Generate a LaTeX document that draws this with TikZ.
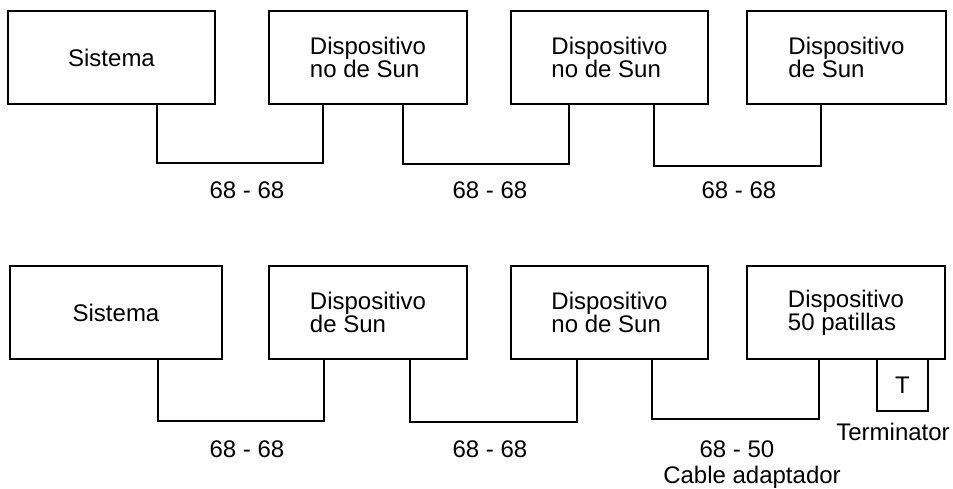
\documentclass[tikz,border=0pt]{standalone}
\usepackage{fontspec}
\setmainfont{Liberation Sans}
\begin{document}
\begin{tikzpicture}[x=1pt,y=-1pt,
  dev/.style={draw,line width=1.1pt,minimum height=93pt,inner sep=0pt,align=left,font=\fontsize{24}{23}\selectfont},
  lbl/.style={inner sep=0pt,font=\fontsize{24}{28}\selectfont},
  cable/.style={line width=1.1pt}]
\useasboundingbox (0,0) rectangle (953,488);
% top row
\node[dev,minimum width=207pt] (a1) at (111.5,57.5) {Sistema};
\node[dev,minimum width=198pt] (a2) at (368,57.5) {Dispositivo\\no de Sun};
\node[dev,minimum width=197pt] (a3) at (609.5,57.5) {Dispositivo\\no de Sun};
\node[dev,minimum width=199pt] (a4) at (846.5,57.5) {Dispositivo\\de Sun};
\coordinate (p1) at (157,163); \coordinate (q1) at (323,163);
\coordinate (p2) at (403,164); \coordinate (q2) at (569,164);
\coordinate (p3) at (654,166); \coordinate (q3) at (821,166);
\draw[cable] (a1.south -| p1) -- (p1) -- (q1) -- (a2.south -| q1);
\draw[cable] (a2.south -| p2) -- (p2) -- (q2) -- (a3.south -| q2);
\draw[cable] (a3.south -| p3) -- (p3) -- (q3) -- (a4.south -| q3);
\node[lbl] (la1) at (247,190) {68 - 68};
\node[lbl] (la2) at (490,190) {68 - 68};
\node[lbl] (la3) at (739,190) {68 - 68};
% bottom row
\node[dev,minimum width=212pt] (b1) at (116,312.5) {Sistema};
\node[dev,minimum width=198pt] (b2) at (368,312.5) {Dispositivo\\de Sun};
\node[dev,minimum width=197pt] (b3) at (609.5,312.5) {Dispositivo\\no de Sun};
\node[dev,minimum width=198pt] (b4) at (846,312.5) {Dispositivo\\50 patillas};
\node[draw,line width=1.1pt,minimum width=51pt,minimum height=52pt,inner sep=0pt,font=\fontsize{24}{28}\selectfont] (t) at (902.5,385) {T};
\coordinate (r1) at (158,421); \coordinate (s1) at (324,421);
\coordinate (r2) at (410,422); \coordinate (s2) at (577,422);
\coordinate (r3) at (652,419); \coordinate (s3) at (819,419);
\draw[cable] (b1.south -| r1) -- (r1) -- (s1) -- (b2.south -| s1);
\draw[cable] (b2.south -| r2) -- (r2) -- (s2) -- (b3.south -| s2);
\draw[cable] (b3.south -| r3) -- (r3) -- (s3) -- (b4.south -| s3);
\node[lbl] (lb1) at (247,449) {68 - 68};
\node[lbl] (lb2) at (490,449) {68 - 68};
\node[lbl] (lb3) at (737,449) {68 - 50};
\node[lbl] (lb4) at (752,477) {Cable adaptador};
\node[lbl] (lt) at (893,432) {Terminator};
\end{tikzpicture}
\end{document}
